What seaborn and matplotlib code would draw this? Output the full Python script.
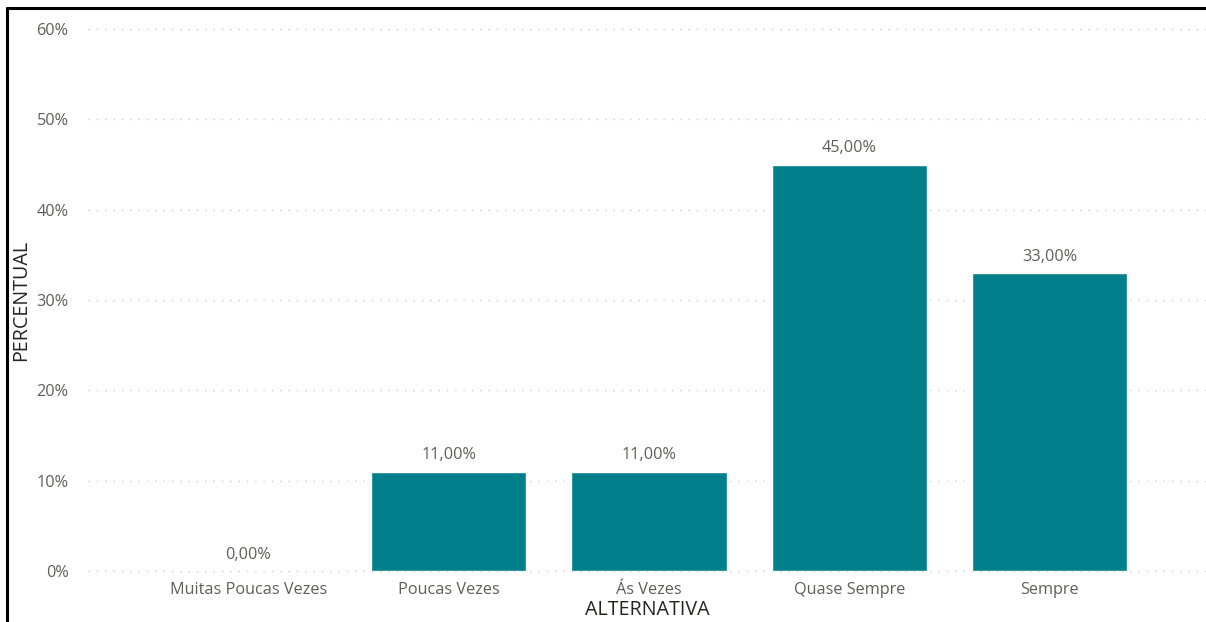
import matplotlib
matplotlib.use("Agg")
import matplotlib.pyplot as plt
import seaborn as sns
import pandas as pd
from matplotlib.lines import Line2D

categories = ["Muitas Poucas Vezes", "Poucas Vezes", "Ás Vezes", "Quase Sempre", "Sempre"]
values = [0.0, 11.0, 11.0, 45.0, 33.0]
y_ticks = [0, 10, 20, 30, 40, 50, 60]
y_tick_labels = ["0%", "10%", "20%", "30%", "40%", "50%", "60%"]

sns.set_theme(style="white")
plt.rcParams['font.family'] = ['Open Sans', 'DejaVu Sans']

df = pd.DataFrame({"ALTERNATIVA": categories, "PERCENTUAL": values})

fig = plt.figure(figsize=(12.06, 6.22), dpi=100)
ax = fig.add_axes([88/1206, 51/622, 1 - 88/1206, (571-29)/622])

sns.barplot(data=df, x="ALTERNATIVA", y="PERCENTUAL", color="#01808C",
            saturation=1, width=0.775, ax=ax, zorder=3)

ax.set_xlim(-0.8, 4.78)
ax.set_ylim(0, 60)
ax.set_yticks(y_ticks)
ax.set_yticklabels(y_tick_labels)
for y in y_ticks:
    ax.axhline(y, color="#CDCDCD", linestyle=(0, (1, 5)), linewidth=1.0, zorder=1, clip_on=False)

for s in ax.spines.values():
    s.set_visible(False)
ax.tick_params(axis="both", length=0, colors="#605E5C", labelsize=11.7)
ax.tick_params(axis="y", pad=14)
ax.tick_params(axis="x", pad=8)

for i, v in enumerate(values):
    ax.annotate(f"{v:.2f}".replace(".", ",") + "%", (i, v), xytext=(0, 6),
                textcoords="offset points", ha="center", va="bottom",
                fontsize=11.7, color="#605E5C")

ax.set_xlabel("ALTERNATIVA", fontsize=14.2, color="#252423", labelpad=1.5)
ax.set_ylabel("PERCENTUAL", fontsize=14.2, color="#252423")
ax.yaxis.set_label_coords(-(88-31) / (1206-88), 0.5)

# outer frame (top and left edges visible)
fig.add_artist(Line2D([7/1206, 7/1206], [0, 1 - 8/622], transform=fig.transFigure, color="black", linewidth=2.2))
fig.add_artist(Line2D([7/1206, 1], [1 - 8/622, 1 - 8/622], transform=fig.transFigure, color="black", linewidth=2.2))

fig.savefig("out.png", dpi=100)
